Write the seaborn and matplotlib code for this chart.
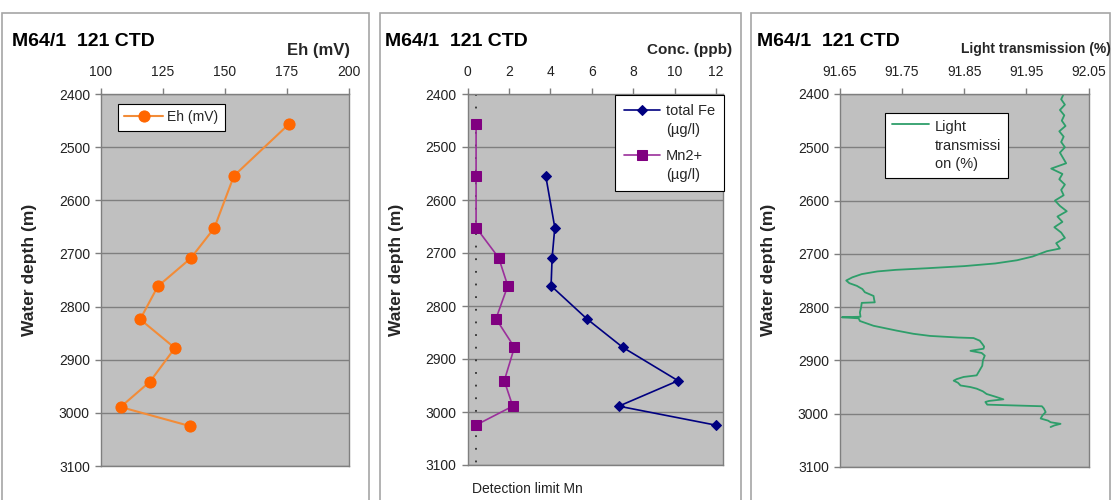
import matplotlib
matplotlib.use("Agg")
import matplotlib.pyplot as plt
import seaborn as sns
import numpy as np
from matplotlib.patches import Rectangle
from matplotlib.legend_handler import HandlerLine2D

sns.set_style("white")
plt.rcParams["font.family"] = ["Liberation Sans", "DejaVu Sans"]

# ---------------- data ----------------
title = "M64/1  121 CTD"
depth_ticks = [2400, 2500, 2600, 2700, 2800, 2900, 3000, 3100]

sample_depth = [2457, 2554, 2652, 2709, 2762, 2824, 2878, 2941, 2989, 3025]
eh_mv = [175.7, 153.6, 145.7, 136.2, 122.9, 115.8, 129.8, 119.8, 107.9, 136.0]
eh_ticks = [100, 125, 150, 175, 200]

fe_depth = [2554, 2652, 2709, 2762, 2824, 2878, 2941, 2989, 3025]
fe_ugl = [3.77, 4.21, 4.08, 4.03, 5.75, 7.49, 10.16, 7.30, 12.01]
mn_ugl = [0.41, 0.41, 0.41, 1.50, 1.94, 1.37, 2.26, 1.77, 2.18, 0.39]
detection_limit_mn = 0.42
conc_ticks = [0, 2, 4, 6, 8, 10, 12]

lt_depth = [2400, 2410, 2420, 2430, 2440, 2450, 2460, 2470, 2480, 2490,
            2500, 2510, 2520, 2530, 2540, 2550, 2560, 2570, 2580, 2590,
            2600, 2610, 2620, 2630, 2640, 2650, 2660, 2670, 2680, 2690,
            2695, 2705, 2712, 2718, 2723, 2727, 2730, 2733, 2738, 2744,
            2750, 2755, 2760, 2766, 2772, 2779, 2786, 2791, 2792, 2800,
            2810, 2818, 2819, 2821, 2826, 2835, 2844, 2850, 2854, 2857,
            2858, 2863, 2869, 2874, 2878, 2882, 2886, 2891, 2900, 2910,
            2920, 2928, 2931, 2935, 2938, 2942, 2947, 2950, 2953, 2958,
            2963, 2968, 2973, 2976, 2978, 2983, 2986, 2990, 2997, 3003,
            3009, 3013, 3016, 3019, 3022, 3025]
lt_pct = [92.010, 92.006, 92.012, 92.004, 92.011, 92.007, 92.013, 92.003, 92.010, 92.006,
          92.012, 92.004, 92.009, 92.014, 91.990, 92.008, 92.003, 92.012, 92.006, 92.010,
          91.996, 92.004, 92.015, 92.000, 92.008, 91.995, 92.006, 92.012, 91.998, 92.004,
          91.983, 91.960, 91.935, 91.900, 91.850, 91.790, 91.740, 91.710, 91.685, 91.670,
          91.660, 91.665, 91.677, 91.686, 91.690, 91.704, 91.705, 91.706, 91.685, 91.684,
          91.682, 91.683, 91.653, 91.680, 91.682, 91.704, 91.741, 91.768, 91.795, 91.840,
          91.865, 91.875, 91.879, 91.882, 91.881, 91.860, 91.878, 91.883, 91.880, 91.879,
          91.874, 91.870, 91.849, 91.838, 91.833, 91.840, 91.844, 91.860, 91.870, 91.880,
          91.886, 91.900, 91.913, 91.890, 91.884, 91.887, 91.975, 91.978, 91.981, 91.976,
          91.973, 91.985, 91.989, 92.005, 91.995, 91.989]
lt_ticks = [91.65, 91.75, 91.85, 91.95, 92.05]

# ---------------- layout helpers ----------------
W, H = 1112, 500
fig = plt.figure(figsize=(W / 100, H / 100), dpi=100)


def rect(l, r, t, b):
    return [l / W, 1 - b / H, (r - l) / W, (b - t) / H]


def fx(px):
    return px / W


def fy(py):
    return 1 - py / H


GRID = "#7F7F7F"
TXT = "#222222"


class FirstLineHandler(HandlerLine2D):
    def __init__(self, dy, **kw):
        super().__init__(**kw)
        self.dy = dy

    def create_artists(self, legend, orig_handle, xdescent, ydescent,
                       width, height, fontsize, trans):
        arts = super().create_artists(legend, orig_handle, xdescent, ydescent,
                                      width, height, fontsize, trans)
        for a in arts:
            a.set_ydata(np.asarray(a.get_ydata(), dtype=float) + self.dy)
        return arts


def style_axes(ax, xlim, xticks, fmt=None):
    ax.set_facecolor("#C0C0C0")
    ax.set_xlim(*xlim)
    ax.set_xticks(xticks)
    if fmt:
        ax.set_xticklabels([fmt % v for v in xticks])
    ax.set_ylim(3100, 2400)
    ax.set_yticks(depth_ticks)
    ax.xaxis.tick_top()
    ax.tick_params(axis="x", top=True, bottom=False, direction="out", length=4,
                   width=1, color=GRID, labelsize=10, labelcolor=TXT, pad=7)
    ax.tick_params(axis="y", left=True, direction="out", length=4, width=1,
                   color=GRID, labelsize=10, labelcolor=TXT, pad=4)
    ax.grid(False)
    ax.grid(axis="y", color=GRID, lw=1)
    ax.set_axisbelow(True)
    for s in ax.spines.values():
        s.set_color(GRID)
        s.set_linewidth(1)
    ax.set_xlabel("")
    ax.set_ylabel("")


# frames of the three chart objects
for l, r in [(2, 369), (380, 741), (751, 1110)]:
    fig.add_artist(Rectangle((fx(l), -0.1), (r - l) / W, fy(13) + 0.1,
                             transform=fig.transFigure, fill=False,
                             ec="#A6A6A6", lw=1.2))

ax1 = fig.add_axes(rect(101, 349, 94, 466))
ax2 = fig.add_axes(rect(467.6, 723, 94, 465))
ax3 = fig.add_axes(rect(840, 1088.5, 94, 467))

# ---- panel 1: Eh ----
sns.lineplot(x=eh_mv, y=sample_depth, ax=ax1, sort=False, estimator=None,
             color="#F28C38", lw=1.5, marker="o", markersize=8,
             markerfacecolor="#FF6600", markeredgecolor="#FF6600",
             label="Eh (mV)")
style_axes(ax1, (100, 200), eh_ticks)
leg1 = ax1.legend(loc="upper left", bbox_to_anchor=(fx(118), fy(104)),
                  bbox_transform=fig.transFigure, fontsize=10, frameon=True,
                  fancybox=False, edgecolor="#000000", framealpha=1,
                  handlelength=2.8, handletextpad=0.3, borderpad=0.45,
                  borderaxespad=0)
leg1.get_frame().set_linewidth(0.8)

# ---- panel 2: Fe, Mn ----
sns.lineplot(x=fe_ugl, y=fe_depth, ax=ax2, sort=False, estimator=None,
             color="#000080", lw=1.2, marker="D", markersize=5.5,
             markerfacecolor="#000080", markeredgecolor="#000080",
             label="total Fe\n(µg/l)")
sns.lineplot(x=mn_ugl, y=sample_depth, ax=ax2, sort=False, estimator=None,
             color="#9B2F9B", lw=1.2, marker="s", markersize=7.5,
             markerfacecolor="#800080", markeredgecolor="#800080",
             label="Mn2+\n(µg/l)")
ax2.plot([detection_limit_mn, detection_limit_mn], [2400, 3113],
         ls=(0, (1, 6)), color="#303030", lw=1.3, clip_on=False, zorder=1.5)
style_axes(ax2, (0, 12.33), conc_ticks)
h2, l2 = ax2.get_legend_handles_labels()
h2 = [h for h in h2 if h.get_label() in ("total Fe\n(µg/l)", "Mn2+\n(µg/l)")]
leg2 = ax2.legend(handles=h2, loc="upper right",
                  bbox_to_anchor=(fx(724), fy(95)),
                  bbox_transform=fig.transFigure, fontsize=10.5, frameon=True,
                  fancybox=False, edgecolor="#000000", framealpha=1,
                  handlelength=2.5, handletextpad=0.4, borderpad=0.6,
                  labelspacing=0.8, borderaxespad=0,
                  handler_map={h: FirstLineHandler(7.9) for h in h2})
leg2.get_frame().set_linewidth(0.8)
for t in leg2.get_texts():
    t.set_linespacing(1.5)
fig.text(fx(472.5), fy(489), "Detection limit Mn", fontsize=10, color=TXT,
         ha="left", va="center")

# ---- panel 3: light transmission ----
sns.lineplot(x=lt_pct, y=lt_depth, ax=ax3, sort=False, estimator=None,
             color="#2E9E6A", lw=1.3, label="Light\ntransmissi\non (%)")
style_axes(ax3, (91.65, 92.05), lt_ticks, fmt="%.2f")
h3, _ = ax3.get_legend_handles_labels()
leg3 = ax3.legend(handles=h3, loc="upper left",
                  bbox_to_anchor=(fx(885), fy(113)),
                  bbox_transform=fig.transFigure, fontsize=10.5, frameon=True,
                  fancybox=False, edgecolor="#000000", framealpha=1,
                  handlelength=2.6, handletextpad=0.35, borderpad=0.45,
                  borderaxespad=0,
                  handler_map={h3[0]: FirstLineHandler(15.5)})
leg3.get_frame().set_linewidth(0.8)
for t in leg3.get_texts():
    t.set_linespacing(1.45)

# ---- titles, axis labels ----
for x0 in (12, 385, 757):
    fig.text(fx(x0), fy(42), title, fontsize=14, fontweight="bold",
             ha="left", va="center", color="#000000")
fig.text(fx(350), fy(50), "Eh (mV)", fontsize=12, fontweight="bold",
         ha="right", va="center")
fig.text(fx(732), fy(50), "Conc. (ppb)", fontsize=11, fontweight="bold",
         ha="right", va="center")
fig.text(fx(1111), fy(49), "Light transmission (%)", fontsize=10,
         fontweight="bold", ha="right", va="center")
for x0 in (30, 397, 769):
    fig.text(fx(x0), fy(270), "Water depth (m)", fontsize=12.5,
             fontweight="bold", rotation=90, ha="center", va="center")

fig.savefig("out.png", dpi=100, facecolor="white")
